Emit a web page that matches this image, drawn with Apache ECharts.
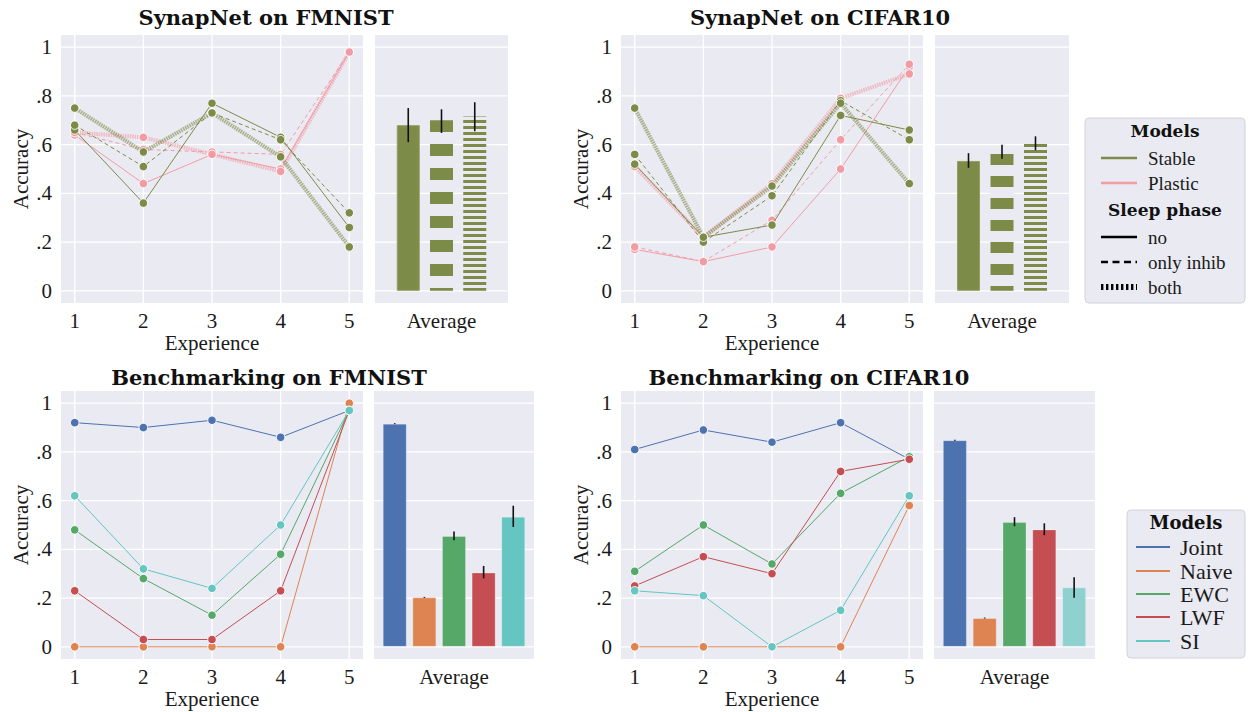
<!DOCTYPE html>
<html><head><meta charset="utf-8">
<script src="https://cdn.jsdelivr.net/npm/echarts@6/dist/echarts.min.js"></script>
<style>html,body{margin:0;padding:0;background:#fff}#c{width:1249px;height:712px}</style>
</head><body><div id="c"></div>
<script>
// ---------- data ----------
const experiences = [1, 2, 3, 4, 5];
const yTicks = [0, 0.2, 0.4, 0.6, 0.8, 1];
const xTicks = [1, 2, 3, 4, 5];
const sleepPhases = ['no', 'only inhib', 'both'];
const synapModels = ['Stable', 'Plastic'];
const benchModels = ['Joint', 'Naive', 'EWC', 'LWF', 'SI'];

// SynapNet on FMNIST
const fmStableNo    = [0.66, 0.36, 0.77, 0.63, 0.26];
const fmStableInhib = [0.68, 0.51, 0.73, 0.62, 0.32];
const fmStableBoth  = [0.75, 0.57, 0.73, 0.55, 0.18];
const fmPlasticNo    = [0.64, 0.44, 0.56, 0.50, 0.98];
const fmPlasticInhib = [0.65, 0.58, 0.57, 0.56, 0.98];
const fmPlasticBoth  = [0.65, 0.63, 0.56, 0.49, 0.98];
const fmSynapAvg = [0.68, 0.70, 0.715];
const fmSynapErrLow  = [0.61, 0.648, 0.655];
const fmSynapErrHigh = [0.75, 0.745, 0.774];

// SynapNet on CIFAR10
const cfStableNo    = [0.52, 0.22, 0.27, 0.72, 0.66];
const cfStableInhib = [0.56, 0.20, 0.39, 0.78, 0.62];
const cfStableBoth  = [0.75, 0.22, 0.43, 0.77, 0.44];
const cfPlasticNo    = [0.17, 0.12, 0.18, 0.50, 0.92];
const cfPlasticInhib = [0.18, 0.12, 0.29, 0.62, 0.93];
const cfPlasticBoth  = [0.51, 0.22, 0.44, 0.79, 0.89];
const cfSynapAvg = [0.533, 0.569, 0.606];
const cfSynapErrLow  = [0.505, 0.542, 0.577];
const cfSynapErrHigh = [0.565, 0.600, 0.634];

// Benchmarking on FMNIST
const fmJoint = [0.92, 0.90, 0.93, 0.86, 0.97];
const fmNaive = [0.00, 0.00, 0.00, 0.00, 1.00];
const fmEWC   = [0.48, 0.28, 0.13, 0.38, 0.97];
const fmLWF   = [0.23, 0.03, 0.03, 0.23, 0.97];
const fmSI    = [0.62, 0.32, 0.24, 0.50, 0.97];
const fmBenchAvg = [0.916, 0.203, 0.455, 0.305, 0.534];
const fmBenchErrLow  = [0.914, 0.201, 0.437, 0.281, 0.492];
const fmBenchErrHigh = [0.918, 0.205, 0.473, 0.332, 0.579];

// Benchmarking on CIFAR10
const cfJoint = [0.81, 0.89, 0.84, 0.92, 0.77];
const cfNaive = [0.00, 0.00, 0.00, 0.00, 0.58];
const cfEWC   = [0.31, 0.50, 0.34, 0.63, 0.78];
const cfLWF   = [0.25, 0.37, 0.30, 0.72, 0.77];
const cfSI    = [0.23, 0.21, 0.00, 0.15, 0.62];
const cfBenchAvg = [0.848, 0.118, 0.512, 0.482, 0.244];
const cfBenchErrLow  = [0.846, 0.116, 0.495, 0.458, 0.201];
const cfBenchErrHigh = [0.850, 0.120, 0.532, 0.507, 0.286];

// ---------- styling ----------
const BG = '#eaeaf2';
const GREEN = '#7d8b48';
const PINK = '#f19ca5';
const benchColors = ['#4c72b0', '#dd8452', '#55a868', '#c44e52', '#64c5c1'];
const benchBarColorsCf = ['#4c72b0', '#dd8452', '#55a868', '#c44e52', '#8fd1cf'];
const SERIF = '"Liberation Serif", "DejaVu Serif", serif';
const BOLD = '"DejaVu Serif", serif';
const TXT = '#1a1a1a';

const chart = echarts.init(document.getElementById('c'), null, {renderer: 'svg'});

const grids = [
  {left: 61,  top: 35,  width: 302, height: 268},
  {left: 375, top: 35,  width: 133, height: 268},
  {left: 621, top: 35,  width: 302, height: 268},
  {left: 935, top: 35,  width: 134, height: 268},
  {left: 61,  top: 391, width: 302, height: 268},
  {left: 374, top: 391, width: 160, height: 268},
  {left: 621, top: 391, width: 302, height: 268},
  {left: 934, top: 391, width: 161, height: 268}
].map(g => Object.assign({show: true, backgroundColor: BG, borderWidth: 0}, g));

const fontLab = {fontFamily: SERIF, fontSize: 21, color: TXT};
function isMul(v, s) { return Math.abs(v / s - Math.round(v / s)) < 1e-6; }
function yFmt(v) {
  if (!isMul(v, 0.2)) return '';
  const r = Math.round(v * 5) / 5;
  if (Math.abs(r) < 1e-9) return '0';
  if (Math.abs(r - 1) < 1e-9) return '1';
  return '.' + Math.round(r * 10);
}
const xAxes = [], yAxes = [];
for (let i = 0; i < 8; i++) {
  const isLine = i % 2 === 0;
  const isTop = i < 4;
  if (isLine) {
    xAxes.push({gridIndex: i, type: 'value', min: 0.8, max: 5.2, interval: 0.2,
      axisLine: {show: false}, axisTick: {show: false}, splitLine: {show: false},
      axisLabel: Object.assign({margin: 7, formatter: v => isMul(v, 1) ? String(Math.round(v)) : ''}, fontLab),
      name: 'Experience', nameLocation: 'middle', nameGap: 29, nameTextStyle: fontLab});
    yAxes.push({gridIndex: i, type: 'value', min: -0.05, max: 1.05, interval: 0.05,
      axisLine: {show: false}, axisTick: {show: false}, splitLine: {show: false},
      axisLabel: Object.assign({margin: 9, formatter: yFmt}, fontLab),
      name: 'Accuracy', nameLocation: 'middle', nameGap: 30, nameTextStyle: fontLab});
  } else {
    xAxes.push({gridIndex: i, type: 'value', min: isTop ? 0 : 0.3, max: isTop ? 4 : 5.7,
      axisLine: {show: false}, axisTick: {show: false}, splitLine: {show: false},
      axisLabel: {show: false},
      name: 'Average', nameLocation: 'middle', nameGap: 7, nameTextStyle: fontLab});
    yAxes.push({gridIndex: i, type: 'value', min: -0.05, max: 1.05, interval: 0.05,
      axisLine: {show: false}, axisTick: {show: false}, splitLine: {show: false},
      axisLabel: {show: false}});
  }
}

const series = [];
// grid lines drawn through the axes' scales
function addGridLines(i, withVertical) {
  series.push({type: 'custom', xAxisIndex: i, yAxisIndex: i, z: 0, silent: true,
    data: yTicks.map(v => [1, v]),
    renderItem: (params, api) => {
      const cs = params.coordSys;
      const y = api.coord([api.value(0), api.value(1)])[1];
      return {type: 'line', shape: {x1: cs.x, y1: y, x2: cs.x + cs.width, y2: y},
        style: {stroke: '#ffffff', lineWidth: 1.3}};
    }});
  if (withVertical) {
    series.push({type: 'custom', xAxisIndex: i, yAxisIndex: i, z: 0, silent: true,
      data: xTicks.map(v => [v, 0]),
      renderItem: (params, api) => {
        const cs = params.coordSys;
        const x = api.coord([api.value(0), api.value(1)])[0];
        return {type: 'line', shape: {x1: x, y1: cs.y, x2: x, y2: cs.y + cs.height},
          style: {stroke: '#ffffff', lineWidth: 1.3}};
      }});
  }
}
for (let i = 0; i < 8; i++) addGridLines(i, i % 2 === 0);

function lineStyleFor(phase) {
  if (phase === 'no') return {width: 1, type: 'solid'};
  if (phase === 'only inhib') return {width: 1, type: [4, 3]};
  return {width: 4, type: [1.6, 0.8], opacity: 0.6};
}
function addLine(i, vals, color, phase, z) {
  series.push({type: 'line', xAxisIndex: i, yAxisIndex: i, z: z || 3,
    data: experiences.map((e, k) => [e, vals[k]]),
    symbol: 'circle', symbolSize: 8.5, showSymbol: true,
    lineStyle: Object.assign({color: color}, lineStyleFor(phase)),
    itemStyle: {color: color, borderColor: '#ffffff', borderWidth: 1},
    emphasis: {disabled: true}, animation: false});
}
// SynapNet panels
const synapSets = [
  {g: 0, stable: [fmStableNo, fmStableInhib, fmStableBoth], plastic: [fmPlasticNo, fmPlasticInhib, fmPlasticBoth]},
  {g: 2, stable: [cfStableNo, cfStableInhib, cfStableBoth], plastic: [cfPlasticNo, cfPlasticInhib, cfPlasticBoth]}
];
synapSets.forEach(s => {
  sleepPhases.forEach((p, k) => addLine(s.g, s.plastic[k], PINK, p, 3));
  sleepPhases.forEach((p, k) => addLine(s.g, s.stable[k], GREEN, p, 4));
});
// Benchmark panels
[[4, [fmJoint, fmNaive, fmEWC, fmLWF, fmSI]], [6, [cfJoint, cfNaive, cfEWC, cfLWF, cfSI]]].forEach(([g, arr]) => {
  arr.forEach((vals, k) => addLine(g, vals, benchColors[k], 'no', 3));
});

// SynapNet average bars with hatches
const hatch = {
  'only inhib': (p) => ({symbol: 'rect', symbolSize: 1, color: GREEN, dashArrayX: [1, 0], dashArrayY: [p, p], rotation: 0}),
  'both': () => ({symbol: 'rect', symbolSize: 1, color: GREEN, dashArrayX: [1, 0], dashArrayY: [2.6, 2.2], rotation: 0})
};
function addSynapBars(i, avg, lo, hi, blockSize) {
  series.push({type: 'bar', xAxisIndex: i, yAxisIndex: i, z: 3, barWidth: 23,
    data: sleepPhases.map((p, k) => {
      const item = {value: [k + 1, avg[k]]};
      if (p === 'no') item.itemStyle = {color: GREEN, borderColor: '#93a062', borderWidth: 1};
      else item.itemStyle = {color: BG, decal: hatch[p](blockSize)};
      return item;
    }),
    emphasis: {disabled: true}, animation: false});
  addErr(i, sleepPhases.map((p, k) => [k + 1, lo[k], hi[k]]));
}
function addBenchBars(i, avg, lo, hi, colors) {
  series.push({type: 'bar', xAxisIndex: i, yAxisIndex: i, z: 3, barWidth: 24,
    data: benchModels.map((m, k) => ({value: [k + 1, avg[k]],
      itemStyle: {color: colors[k], borderColor: 'rgba(255,255,255,0.25)', borderWidth: 1}})),
    emphasis: {disabled: true}, animation: false});
  addErr(i, benchModels.map((m, k) => [k + 1, lo[k], hi[k]]));
}
function addErr(i, rows) {
  series.push({type: 'custom', xAxisIndex: i, yAxisIndex: i, z: 5, silent: true,
    data: rows, encode: {x: 0, y: [1, 2]},
    renderItem: (params, api) => {
      const a = api.coord([api.value(0), api.value(1)]);
      const b = api.coord([api.value(0), api.value(2)]);
      return {type: 'line', shape: {x1: a[0], y1: a[1], x2: b[0], y2: b[1]},
        style: {stroke: '#111111', lineWidth: 1.6}};
    }});
}
addSynapBars(1, fmSynapAvg, fmSynapErrLow, fmSynapErrHigh, 11.7);
addSynapBars(3, cfSynapAvg, cfSynapErrLow, cfSynapErrHigh, 10.7);
addBenchBars(5, fmBenchAvg, fmBenchErrLow, fmBenchErrHigh, benchColors);
addBenchBars(7, cfBenchAvg, cfBenchErrLow, cfBenchErrHigh, benchBarColorsCf);

// ---------- titles & legends ----------
const graphic = [];
function title(text, x, y) {
  graphic.push({type: 'text', x: x, y: y, style: {text: text, textAlign: 'center', textVerticalAlign: 'middle',
    font: 'bold 21px ' + BOLD, fill: '#111'}});
}
title('SynapNet on FMNIST', 266, 17);
title('SynapNet on CIFAR10', 820, 17);
title('Benchmarking on FMNIST', 269, 377);
title('Benchmarking on CIFAR10', 809, 377);

function legendBox(x, y, w, h) {
  graphic.push({type: 'rect', shape: {x: x, y: y, width: w, height: h, r: 4},
    style: {fill: BG, stroke: '#d2d2da', lineWidth: 1}});
}
function legendHead(text, x, y, size) {
  graphic.push({type: 'text', x: x, y: y, style: {text: text, textAlign: 'center', textVerticalAlign: 'middle',
    font: 'bold ' + size + 'px ' + BOLD, fill: '#111'}});
}
function legendItem(text, x1, x2, tx, y, stroke, width, dash, size) {
  graphic.push({type: 'line', shape: {x1: x1, y1: y, x2: x2, y2: y},
    style: {stroke: stroke, lineWidth: width, lineDash: dash || null}});
  graphic.push({type: 'text', x: tx, y: y, style: {text: text, textAlign: 'left', textVerticalAlign: 'middle',
    font: size + 'px ' + SERIF, fill: TXT}});
}
legendBox(1085, 118, 160, 185);
legendHead('Models', 1165, 131, 17);
legendItem(synapModels[0], 1101, 1137, 1148, 158, GREEN, 2.5, null, 19);
legendItem(synapModels[1], 1101, 1137, 1148, 183, PINK, 2.5, null, 19);
legendHead('Sleep phase', 1165, 210, 17);
legendItem(sleepPhases[0], 1101, 1137, 1148, 237, '#000', 2.6, null, 19);
legendItem(sleepPhases[1], 1101, 1137, 1148, 262, '#000', 2.6, [7, 4.5], 19);
legendItem(sleepPhases[2], 1101, 1137, 1148, 287, '#000', 6, [2.4, 2.6], 19);

legendBox(1127, 510, 118, 148);
legendHead('Models', 1186, 522, 18);
const benchLegY = [547, 571, 594, 617, 641];
benchModels.forEach((m, k) => legendItem(m, 1136, 1170, 1180, benchLegY[k], benchColors[k], 2, null, 22));

chart.setOption({
  animation: false,
  grid: grids,
  xAxis: xAxes,
  yAxis: yAxes,
  series: series,
  graphic: graphic
});
</script>
</body></html>
